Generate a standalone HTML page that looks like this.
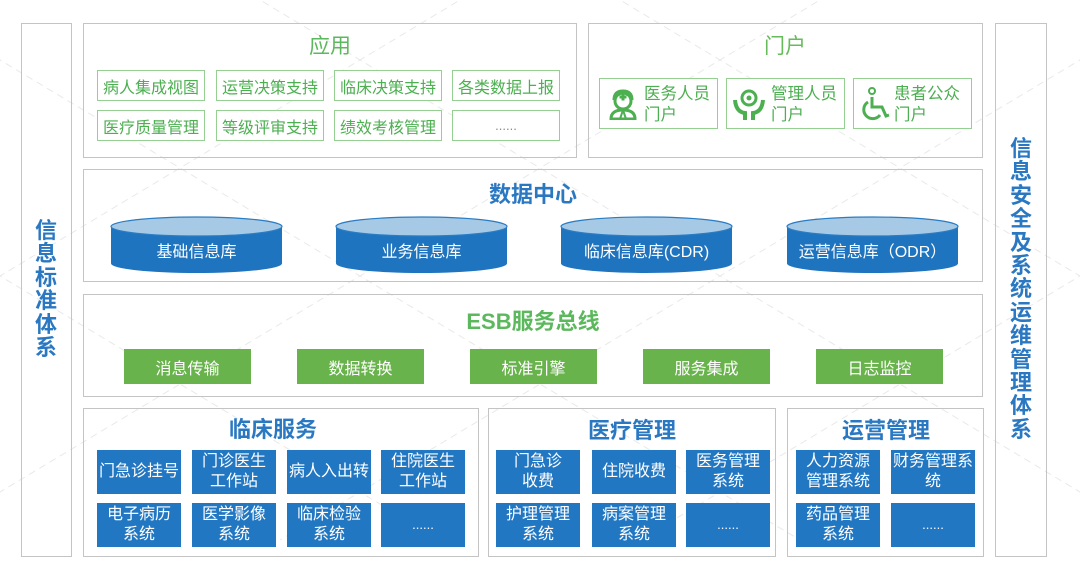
<!DOCTYPE html>
<html>
<head>
<meta charset="utf-8">
<style>
  html,body{margin:0;padding:0;}
  body{width:1080px;height:578px;position:relative;overflow:hidden;background:#fff;
    font-family:"Liberation Sans","Noto Sans CJK SC",sans-serif;}
  .box{position:absolute;border:1.5px solid #c4c4c4;box-sizing:border-box;background:transparent;}
  .t{position:absolute;white-space:nowrap;text-align:center;line-height:1;}
  .g-title{color:#5cb85c;font-size:21px;}
  .b-title{color:#2a78c2;font-size:22px;font-weight:bold;}
  .gi{position:absolute;border:1.2px solid #95cf92;box-sizing:border-box;color:#4caf50;
    font-size:16px;display:flex;align-items:center;justify-content:center;background:#fff;}
  .bi{position:absolute;background:#2277c3;color:#fff;font-size:16px;line-height:20px;
    display:flex;align-items:center;justify-content:center;text-align:center;width:84px;height:44px;}
  .eb{position:absolute;background:#69b34c;color:#fff;font-size:16px;width:127px;height:35px;top:349px;
    display:flex;align-items:center;justify-content:center;}
  .vt{position:absolute;width:24px;font-size:22px;line-height:23.4px;font-weight:bold;color:#2a78c2;
    text-align:center;word-break:break-all;}
  .pi{position:absolute;top:78px;width:119px;height:51px;border:1.2px solid #95cf92;box-sizing:border-box;background:#fff;}
  .pi .txt{position:absolute;top:5px;color:#4caf50;font-size:16.5px;line-height:21px;white-space:nowrap;}
  .pi svg{position:absolute;}
</style>
</head>
<body>

<!-- faint watermark lattice -->
<svg style="position:absolute;left:0;top:0" width="1080" height="578">
  <g stroke="#e9e9e9" stroke-width="1" stroke-dasharray="7 5" fill="none">
    <line x1="-200" y1="-60" x2="800" y2="540"/>
    <line x1="160" y1="-60" x2="1160" y2="540"/>
    <line x1="520" y1="-60" x2="1520" y2="540"/>
    <line x1="-560" y1="-60" x2="440" y2="540"/>
    <line x1="1280" y1="-60" x2="280" y2="540"/>
    <line x1="920" y1="-60" x2="-80" y2="540"/>
    <line x1="560" y1="-60" x2="-440" y2="540"/>
    <line x1="1640" y1="-60" x2="640" y2="540"/>
  </g>
</svg>

<!-- side columns -->
<div class="box" style="left:21px;top:23px;width:51px;height:534px;"></div>
<div class="vt" style="left:34px;top:219px;">信息标准体系</div>

<div class="box" style="left:995px;top:23px;width:52px;height:534px;"></div>
<div class="vt" style="left:1009px;top:137px;">信息安全及系统运维管理体系</div>

<!-- 应用 -->
<div class="box" style="left:83px;top:23px;width:494px;height:135px;"></div>
<div class="t g-title" style="left:300px;top:36px;width:60px;">应用</div>
<div class="gi" style="left:97px;top:70px;width:108px;height:31px;">病人集成视图</div>
<div class="gi" style="left:216px;top:70px;width:108px;height:31px;">运营决策支持</div>
<div class="gi" style="left:334px;top:70px;width:108px;height:31px;">临床决策支持</div>
<div class="gi" style="left:452px;top:70px;width:108px;height:31px;">各类数据上报</div>
<div class="gi" style="left:97px;top:110px;width:108px;height:31px;">医疗质量管理</div>
<div class="gi" style="left:216px;top:110px;width:108px;height:31px;">等级评审支持</div>
<div class="gi" style="left:334px;top:110px;width:108px;height:31px;">绩效考核管理</div>
<div class="gi" style="left:452px;top:110px;width:108px;height:31px;color:#8a8a8a;font-size:13px;">......</div>

<!-- 门户 -->
<div class="box" style="left:588px;top:23px;width:395px;height:135px;"></div>
<div class="t g-title" style="left:755px;top:36px;width:60px;color:#66bb5a;">门户</div>

<div class="pi" style="left:599px;">
  <svg style="left:8px;top:9px" width="30" height="32" viewBox="0 0 30 32">
    <g fill="none" stroke="#4caf50" stroke-width="3">
      <path d="M6 12 Q6 3 15 3 Q24 3 24 12"/>
      <circle cx="15" cy="13" r="8"/>
      <path d="M3 31 Q3 22 15 22 Q27 22 27 31 Z"/>
    </g>
    <path d="M13.5 5.5h3v2h2v3h-2v2h-3v-2h-2v-3h2z" fill="#4caf50"/>
    <path d="M15 22 L12 31 M15 22 L18 31" stroke="#4caf50" stroke-width="2"/>
  </svg>
  <div class="txt" style="left:44px;">医务人员<br>门户</div>
</div>

<div class="pi" style="left:726px;">
  <svg style="left:6px;top:9px" width="32" height="32" viewBox="0 0 32 32">
    <circle cx="16" cy="10" r="7" fill="none" stroke="#4caf50" stroke-width="3"/>
    <circle cx="16" cy="10" r="2.5" fill="#4caf50"/>
    <path d="M2 12 Q3 24 12 25 L12 32" fill="none" stroke="#4caf50" stroke-width="4"/>
    <path d="M30 12 Q29 24 20 25 L20 32" fill="none" stroke="#4caf50" stroke-width="4"/>
  </svg>
  <div class="txt" style="left:44px;">管理人员<br>门户</div>
</div>

<div class="pi" style="left:853px;">
  <svg style="left:6px;top:8px" width="32" height="34" viewBox="0 0 32 34">
    <circle cx="12" cy="4" r="3" fill="none" stroke="#4caf50" stroke-width="2"/>
    <g fill="none" stroke="#4caf50" stroke-width="3">
      <path d="M12 10 L12 20 L22 20 L26 29 L29 28"/>
      <path d="M8 15 A9 9 0 1 0 20 28"/>
    </g>
  </svg>
  <div class="txt" style="left:40px;">患者公众<br>门户</div>
</div>

<!-- 数据中心 -->
<div class="box" style="left:83px;top:169px;width:900px;height:113px;"></div>
<div class="t b-title" style="left:473px;top:184px;width:120px;">数据中心</div>

<svg style="position:absolute;left:0;top:0" width="1080" height="578">
  <g>
    <path d="M111 226.5 L111 263.5 A85.5 9.5 0 0 0 282 263.5 L282 226.5 Z" fill="#1f74bf"/>
    <ellipse cx="196.5" cy="226.5" rx="85.5" ry="9.5" fill="#a6c9e5" stroke="#2a7cc3" stroke-width="1.2"/>
    <path d="M336 226.5 L336 263.5 A85.5 9.5 0 0 0 507 263.5 L507 226.5 Z" fill="#1f74bf"/>
    <ellipse cx="421.5" cy="226.5" rx="85.5" ry="9.5" fill="#a6c9e5" stroke="#2a7cc3" stroke-width="1.2"/>
    <path d="M561 226.5 L561 263.5 A85.5 9.5 0 0 0 732 263.5 L732 226.5 Z" fill="#1f74bf"/>
    <ellipse cx="646.5" cy="226.5" rx="85.5" ry="9.5" fill="#a6c9e5" stroke="#2a7cc3" stroke-width="1.2"/>
    <path d="M787 226.5 L787 263.5 A85.5 9.5 0 0 0 958 263.5 L958 226.5 Z" fill="#1f74bf"/>
    <ellipse cx="872.5" cy="226.5" rx="85.5" ry="9.5" fill="#a6c9e5" stroke="#2a7cc3" stroke-width="1.2"/>
  </g>
</svg>
<div class="t" style="left:111px;top:245px;width:171px;color:#fff;font-size:16px;">基础信息库</div>
<div class="t" style="left:336px;top:245px;width:171px;color:#fff;font-size:16px;">业务信息库</div>
<div class="t" style="left:561px;top:245px;width:171px;color:#fff;font-size:16px;">临床信息库(CDR)</div>
<div class="t" style="left:787px;top:245px;width:171px;color:#fff;font-size:16px;">运营信息库（ODR）</div>

<!-- ESB -->
<div class="box" style="left:83px;top:294px;width:900px;height:103px;"></div>
<div class="t" style="left:433px;top:311px;width:200px;color:#5cb85c;font-size:22px;font-weight:bold;">ESB服务总线</div>
<div class="eb" style="left:124px;">消息传输</div>
<div class="eb" style="left:297px;">数据转换</div>
<div class="eb" style="left:470px;">标准引擎</div>
<div class="eb" style="left:643px;">服务集成</div>
<div class="eb" style="left:816px;">日志监控</div>

<!-- 临床服务 -->
<div class="box" style="left:83px;top:408px;width:396px;height:149px;"></div>
<div class="t b-title" style="left:213px;top:419px;width:120px;">临床服务</div>
<div class="bi" style="left:97px;top:450px;">门急诊挂号</div>
<div class="bi" style="left:192px;top:450px;">门诊医生<br>工作站</div>
<div class="bi" style="left:287px;top:450px;">病人入出转</div>
<div class="bi" style="left:381px;top:450px;">住院医生<br>工作站</div>
<div class="bi" style="left:97px;top:503px;">电子病历<br>系统</div>
<div class="bi" style="left:192px;top:503px;">医学影像<br>系统</div>
<div class="bi" style="left:287px;top:503px;">临床检验<br>系统</div>
<div class="bi" style="left:381px;top:503px;font-size:13px;">......</div>

<!-- 医疗管理 -->
<div class="box" style="left:488px;top:408px;width:288px;height:149px;"></div>
<div class="t b-title" style="left:572px;top:420px;width:120px;">医疗管理</div>
<div class="bi" style="left:496px;top:450px;">门急诊<br>收费</div>
<div class="bi" style="left:592px;top:450px;">住院收费</div>
<div class="bi" style="left:686px;top:450px;">医务管理<br>系统</div>
<div class="bi" style="left:496px;top:503px;">护理管理<br>系统</div>
<div class="bi" style="left:592px;top:503px;">病案管理<br>系统</div>
<div class="bi" style="left:686px;top:503px;font-size:13px;">......</div>

<!-- 运营管理 -->
<div class="box" style="left:787px;top:408px;width:197px;height:149px;"></div>
<div class="t b-title" style="left:826px;top:420px;width:120px;">运营管理</div>
<div class="bi" style="left:796px;top:450px;">人力资源<br>管理系统</div>
<div class="bi" style="left:891px;top:450px;">财务管理系<br>统</div>
<div class="bi" style="left:796px;top:503px;">药品管理<br>系统</div>
<div class="bi" style="left:891px;top:503px;font-size:13px;">......</div>

</body>
</html>
